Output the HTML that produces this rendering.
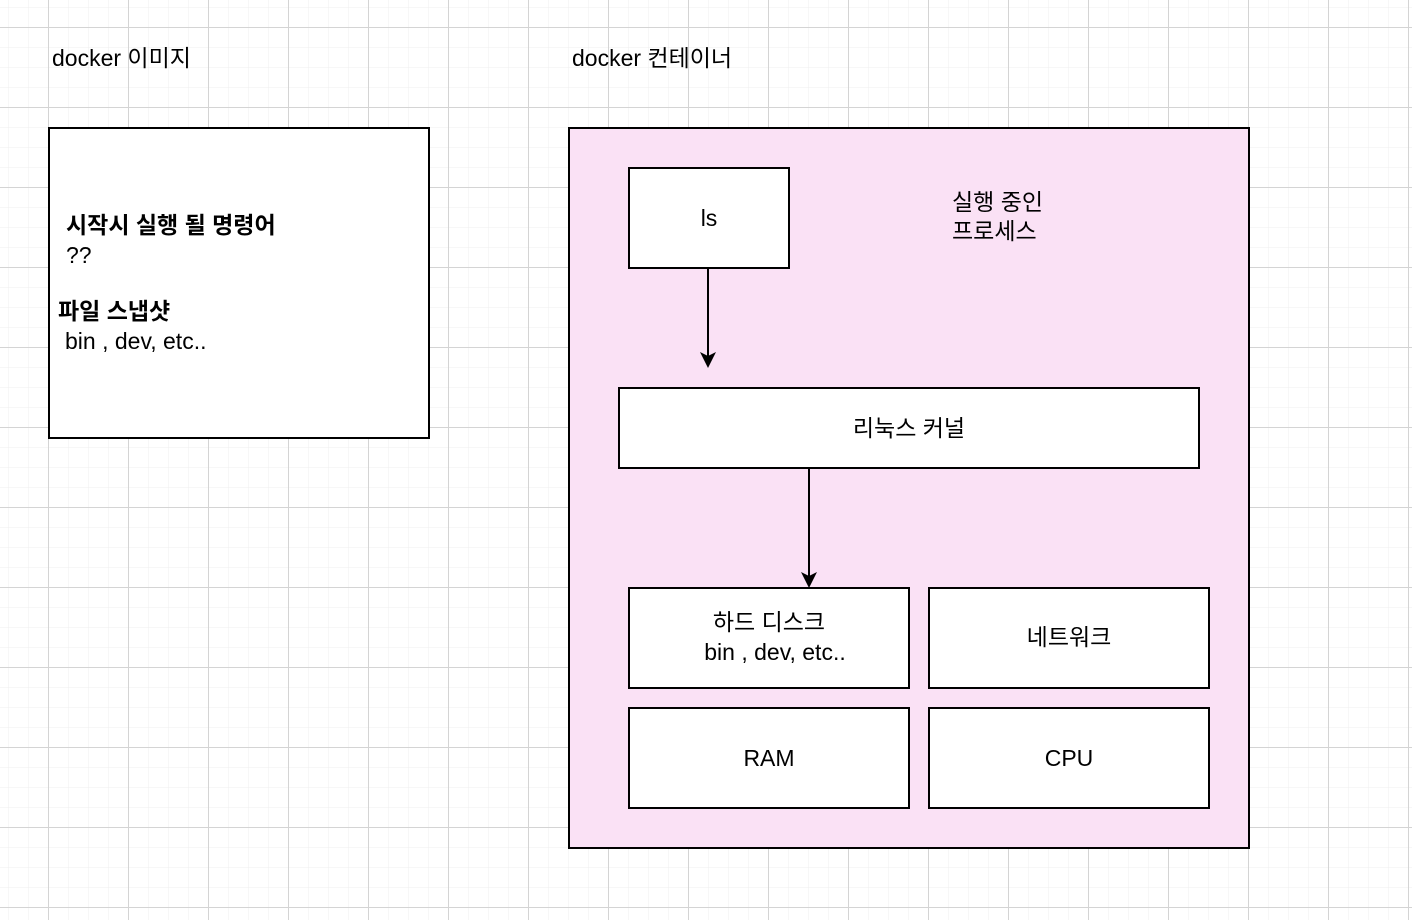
<!DOCTYPE html>
<html><head><meta charset="utf-8"><style>
html,body{margin:0;padding:0;width:1412px;height:920px;overflow:hidden;background:#fff}
text{font-family:"Liberation Sans","Noto Sans CJK KR",sans-serif;font-size:23px;fill:#000}
.b{font-weight:bold}
</style></head><body>
<svg width="1412" height="920" xmlns="http://www.w3.org/2000/svg">
<defs>
<pattern id="minor" x="8" y="7" width="20" height="20" patternUnits="userSpaceOnUse">
<path d="M0 0H20M0 0V20" stroke="#efefef" stroke-width="1" fill="none"/>
</pattern>
<pattern id="major" x="48" y="27" width="80" height="80" patternUnits="userSpaceOnUse">
<path d="M0 0.5H80M0.5 0V80" stroke="#d4d4d4" stroke-width="1" fill="none"/>
</pattern>
</defs>
<rect width="1412" height="920" fill="url(#minor)"/>
<rect width="1412" height="920" fill="url(#major)"/>

<text x="52" y="66">docker 이미지</text>
<text x="572" y="66">docker 컨테이너</text>

<rect x="49" y="128" width="380" height="310" fill="#fff" stroke="#000" stroke-width="2"/>
<text x="66" y="233" class="b">시작시 실행 될 명령어</text>
<text x="66" y="263">??</text>
<text x="58" y="319" class="b">파일 스냅샷</text>
<text x="65" y="349">bin , dev, etc..</text>

<rect x="569" y="128" width="680" height="720" fill="#fae1f5" stroke="#000" stroke-width="2"/>
<rect x="629" y="168" width="160" height="100" fill="#fff" stroke="#000" stroke-width="2"/>
<text x="709" y="226" text-anchor="middle">ls</text>
<text x="952" y="210">실행 중인</text>
<text x="952" y="239">프로세스</text>

<line x1="708" y1="268" x2="708" y2="356" stroke="#000" stroke-width="2"/>
<path d="M700 352 L708 368 L716 352 L708 356Z" fill="#000"/>

<rect x="619" y="388" width="580" height="80" fill="#fff" stroke="#000" stroke-width="2"/>
<text x="909" y="436" text-anchor="middle">리눅스 커널</text>

<line x1="809" y1="468" x2="809" y2="576" stroke="#000" stroke-width="2"/>
<path d="M801 572 L809 588 L817 572 L809 576Z" fill="#000"/>

<rect x="629" y="588" width="280" height="100" fill="#fff" stroke="#000" stroke-width="2"/>
<text x="769" y="630" text-anchor="middle">하드 디스크</text>
<text x="775" y="660" text-anchor="middle">bin , dev, etc..</text>
<rect x="929" y="588" width="280" height="100" fill="#fff" stroke="#000" stroke-width="2"/>
<text x="1069" y="645" text-anchor="middle">네트워크</text>
<rect x="629" y="708" width="280" height="100" fill="#fff" stroke="#000" stroke-width="2"/>
<text x="769" y="766" text-anchor="middle">RAM</text>
<rect x="929" y="708" width="280" height="100" fill="#fff" stroke="#000" stroke-width="2"/>
<text x="1069" y="766" text-anchor="middle">CPU</text>
</svg>
</body></html>
